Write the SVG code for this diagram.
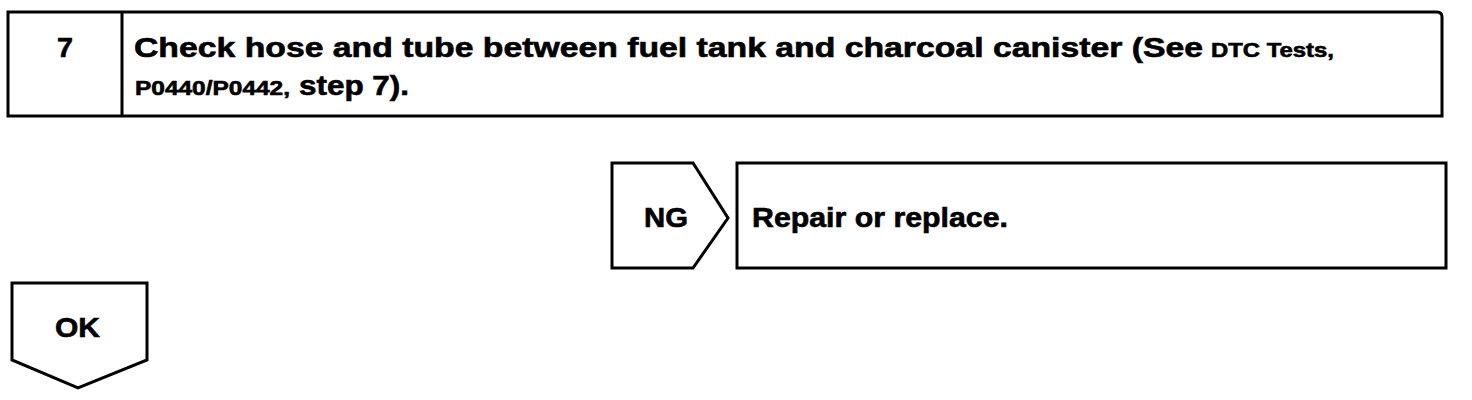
<svg xmlns="http://www.w3.org/2000/svg" width="1472" height="400" viewBox="0 0 1472 400">
<style>
.box{fill:#fff;stroke:#000;stroke-width:3;stroke-linejoin:miter}
.t{font-family:"Liberation Sans",Arial,sans-serif;font-weight:bold;fill:#000;stroke:#000;stroke-width:0.6}
.big{font-size:27px}
.sm{font-size:20px}
</style>
<rect width="1472" height="400" fill="#fff"/>
<g id="step7">
<path class="box" d="M8,12 H1437 Q1442,12 1442,17 V116 H8 Z"/>
<line x1="122" y1="12" x2="122" y2="116" stroke="#000" stroke-width="3"/>
<text class="t big" x="57" y="57" textLength="16" lengthAdjust="spacingAndGlyphs">7</text>
<text class="t big" x="134" y="57" textLength="1069" lengthAdjust="spacingAndGlyphs">Check hose and tube between fuel tank and charcoal canister (See</text>
<text class="t sm" x="1211" y="57" textLength="123" lengthAdjust="spacingAndGlyphs">DTC Tests,</text>
<text class="t sm" x="135" y="95" textLength="155" lengthAdjust="spacingAndGlyphs">P0440/P0442,</text>
<text class="t big" x="299" y="95" textLength="110" lengthAdjust="spacingAndGlyphs">step 7).</text>
</g>
<g id="ng">
<path class="box" d="M612,163 H693 L728,218 L693,268 H612 Z"/>
<text class="t big" x="644" y="227" textLength="44" lengthAdjust="spacingAndGlyphs">NG</text>
</g>
<g id="repair">
<rect class="box" x="737" y="163" width="709" height="105"/>
<text class="t big" x="752" y="227" textLength="256" lengthAdjust="spacingAndGlyphs">Repair or replace.</text>
</g>
<g id="ok">
<path class="box" d="M12,283 H147 V360 L78,388 L12,360 Z"/>
<text class="t big" x="55" y="337" textLength="45" lengthAdjust="spacingAndGlyphs">OK</text>
</g>
<g id="connectors"></g>
</svg>
